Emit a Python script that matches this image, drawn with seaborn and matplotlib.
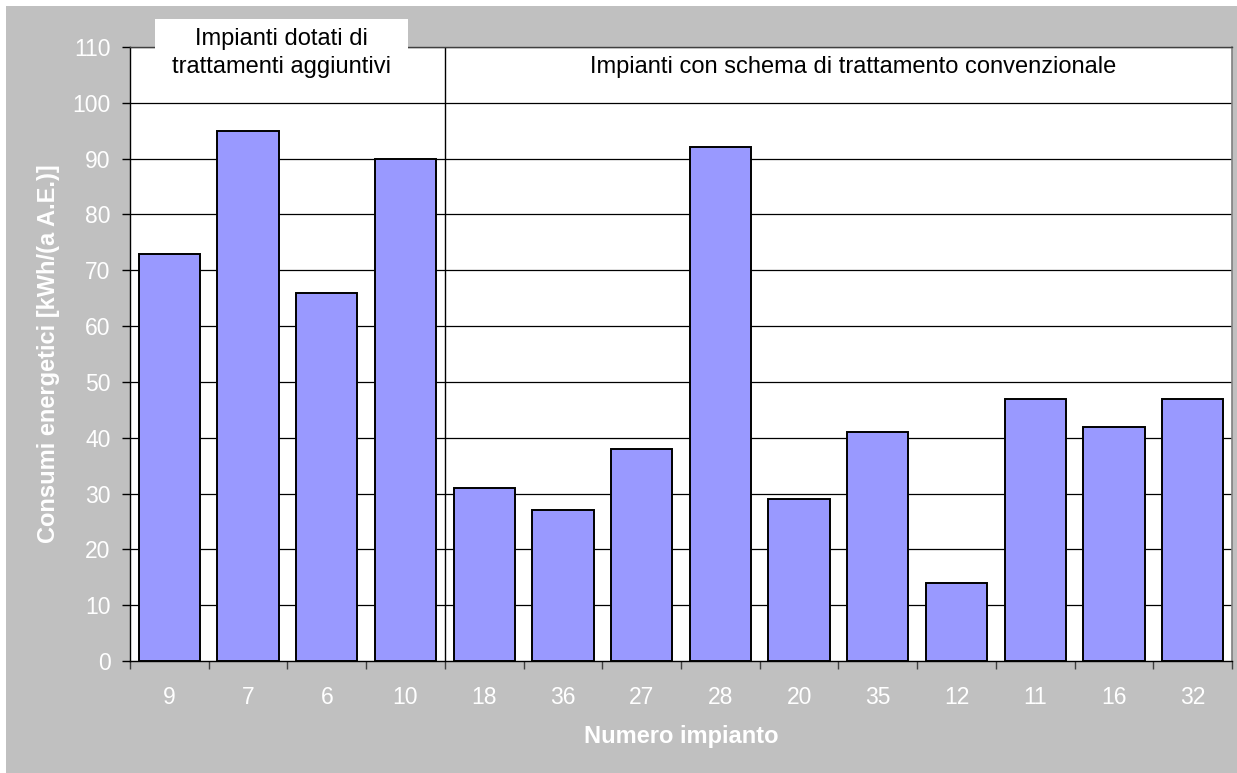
import matplotlib
matplotlib.use("Agg")
import matplotlib.pyplot as plt
from matplotlib.patches import Rectangle
from matplotlib.ticker import FixedLocator, MultipleLocator, NullFormatter
import seaborn as sns
import pandas as pd

# Energy consumption per plant (kWh per year per population equivalent)
impianti = ["9", "7", "6", "10", "18", "36", "27", "28", "20", "35", "12", "11", "16", "32"]
consumi = [73, 95, 66, 90, 31, 27, 38, 92, 29, 41, 14, 47, 42, 47]

gruppo_aggiuntivi = "Impianti dotati di\ntrattamenti aggiuntivi"
gruppo_convenzionale = "Impianti con schema di trattamento convenzionale"

df = pd.DataFrame({"impianto": impianti, "consumo": consumi})

sns.set_theme(style="white")
plt.rcParams["font.family"] = ["Liberation Sans", "DejaVu Sans"]

W, H = 1237, 773
fig = plt.figure(figsize=(W / 100, H / 100), dpi=100)
fig.patch.set_facecolor("white")

# grey chart area behind the plot
fig.add_artist(Rectangle((6 / W, 0), 1, 1 - 6 / H, transform=fig.transFigure,
                         facecolor="#C0C0C0", edgecolor="none", zorder=-10))

L, R, T, B = 130, 1232, 47, 661
ax = fig.add_axes([L / W, 1 - B / H, (R - L) / W, (B - T) / H])
ax.set_facecolor("white")

sns.barplot(data=df, x="impianto", y="consumo", order=impianti, color="#9999FF",
            saturation=1, width=0.78, edgecolor="black", linewidth=1.4, ax=ax, zorder=3)

ax.set_xlim(-0.5, len(impianti) - 0.5)
ax.set_ylim(0, 110)
ax.yaxis.set_major_locator(MultipleLocator(10))
for v in range(10, 111, 10):
    ax.axhline(v, color="black", lw=0.9, zorder=1)

# separator between the two plant groups
ax.axvline(3.5, color="black", lw=1.0, zorder=2)

for s in ["left", "bottom"]:
    ax.spines[s].set_color("black")
    ax.spines[s].set_linewidth(1.0)
ax.spines["top"].set_color("#404040")
ax.spines["top"].set_linewidth(1.0)
ax.spines["right"].set_color("#808080")
ax.spines["right"].set_linewidth(1.2)

ax.tick_params(axis="y", which="major", direction="out", length=6, width=1,
               color="black", labelcolor="white", labelsize=16.5, pad=8, left=True)
ax.tick_params(axis="x", which="major", length=0, labelcolor="white",
               labelsize=16.5, pad=18, bottom=True)
ax.xaxis.set_minor_locator(FixedLocator([i - 0.5 for i in range(len(impianti) + 1)]))
ax.xaxis.set_minor_formatter(NullFormatter())
ax.tick_params(axis="x", which="minor", direction="out", length=6, width=1,
               color="#404040", bottom=True)

ax.set_xlabel("Numero impianto", color="white", fontsize=17, fontweight="bold",
              va="baseline")
ax.xaxis.set_label_coords(0.5, (B - 743) / (B - T))
ax.set_ylabel("Consumi energetici [kWh/(a A.E.)]", color="white", fontsize=17,
              fontweight="bold", va="center")
ax.yaxis.set_label_coords((49 - L) / (R - L), 0.5)

# white text box over the top-left of the plot
fig.add_artist(Rectangle((155 / W, 1 - 92 / H), (408 - 155) / W, (92 - 19) / H,
                         transform=fig.transFigure, facecolor="white",
                         edgecolor="none", zorder=5))
righe = gruppo_aggiuntivi.split("\n")
fig.text(281.5 / W, 1 - 45 / H, righe[0], ha="center", va="baseline",
         fontsize=17, color="black", zorder=6)
fig.text(281.5 / W, 1 - 73 / H, righe[1], ha="center", va="baseline",
         fontsize=17, color="black", zorder=6)
fig.text(853 / W, 1 - 73 / H, gruppo_convenzionale, ha="center", va="baseline",
         fontsize=17, color="black", zorder=6)

fig.savefig("out.png", dpi=100)
